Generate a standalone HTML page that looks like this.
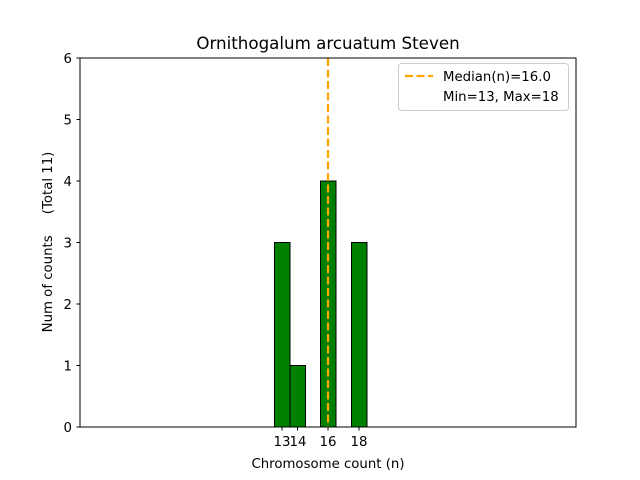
<!DOCTYPE html>
<html><head><meta charset="utf-8"><style>body{margin:0;background:#fff}svg{display:block}</style></head><body>
<svg width="640" height="480" viewBox="0 0 640 480" xmlns="http://www.w3.org/2000/svg" font-family="'DejaVu Sans',sans-serif">
<rect width="640" height="480" fill="#fff"/>
<text x="328" y="49" font-size="16.7" text-anchor="middle">Ornithogalum arcuatum Steven</text>
<g fill="#008000" stroke="#000" stroke-width="1">
<rect x="274.5" y="242.5" width="15.5" height="184.5"/>
<rect x="290" y="365.5" width="15.5" height="61.5"/>
<rect x="320.5" y="181" width="15.5" height="246"/>
<rect x="351.5" y="242.5" width="15.5" height="184.5"/>
</g>
<line x1="80" y1="427" x2="413" y2="427" stroke="#000" stroke-width="1"/>
<line x1="328" y1="58" x2="328" y2="427" stroke="#FFA500" stroke-width="2.2" stroke-dasharray="8,3.5"/>
<rect x="80" y="58" width="496" height="369" fill="none" stroke="#000" stroke-width="1"/>
<g stroke="#000" stroke-width="1">
<line x1="80" y1="427" x2="76.5" y2="427"/><line x1="80" y1="365.5" x2="76.5" y2="365.5"/>
<line x1="80" y1="304" x2="76.5" y2="304"/><line x1="80" y1="242.5" x2="76.5" y2="242.5"/>
<line x1="80" y1="181" x2="76.5" y2="181"/><line x1="80" y1="119.5" x2="76.5" y2="119.5"/>
<line x1="80" y1="58" x2="76.5" y2="58"/>
<line x1="282" y1="427" x2="282" y2="430.5"/><line x1="297.5" y1="427" x2="297.5" y2="430.5"/>
<line x1="328" y1="427" x2="328" y2="430.5"/><line x1="359" y1="427" x2="359" y2="430.5"/>
</g>
<g font-size="13.3" text-anchor="end">
<text x="72" y="432">0</text><text x="72" y="370.5">1</text><text x="72" y="309">2</text>
<text x="72" y="247.5">3</text><text x="72" y="186">4</text><text x="72" y="124.5">5</text><text x="72" y="63">6</text>
</g>
<g font-size="13.3" text-anchor="middle">
<text x="282" y="446">13</text><text x="298" y="446">14</text><text x="328" y="446">16</text><text x="359" y="446">18</text>
<text x="328" y="468">Chromosome count (n)</text>
</g>
<text transform="translate(52,242) rotate(-90)" font-size="13.3" text-anchor="middle" xml:space="preserve">Num of counts     (Total 11)</text>
<rect x="398.5" y="63.5" width="170" height="47" rx="3" fill="#fff" fill-opacity="0.8" stroke="#ccc"/>
<line x1="405" y1="76" x2="433" y2="76" stroke="#FFA500" stroke-width="2.2" stroke-dasharray="8,3.5"/>
<text x="443" y="81" font-size="13.3">Median(n)=16.0</text>
<text x="443" y="101" font-size="13.3">Min=13, Max=18</text>
</svg>
</body></html>
